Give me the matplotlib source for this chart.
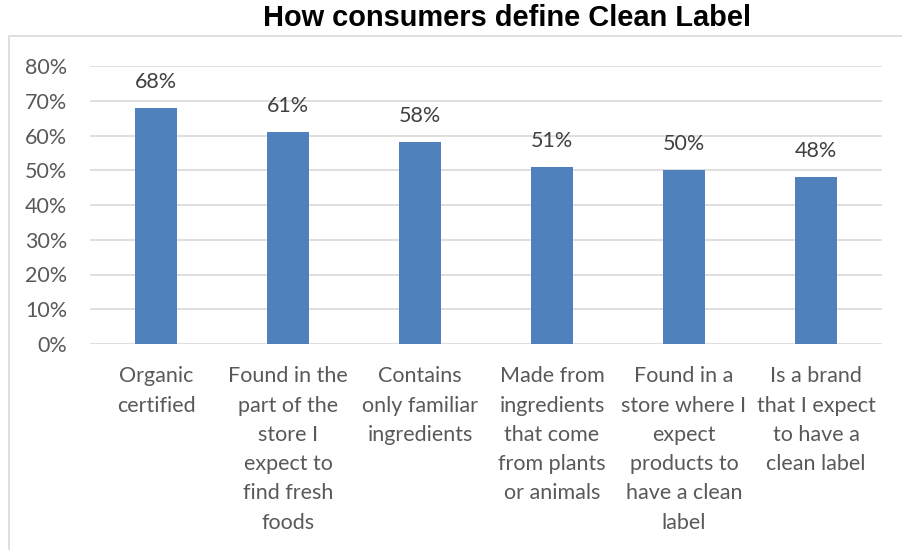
import matplotlib
matplotlib.use("Agg")
import matplotlib.pyplot as plt
from matplotlib.patches import Rectangle
from matplotlib.ticker import FuncFormatter

categories = [
    "Organic\ncertified",
    "Found in the\npart of the\nstore I\nexpect to\nfind fresh\nfoods",
    "Contains\nonly familiar\ningredients",
    "Made from\ningredients\nthat come\nfrom plants\nor animals",
    "Found in a\nstore where I\nexpect\nproducts to\nhave a clean\nlabel",
    "Is a brand\nthat I expect\nto have a\nclean label",
]
values = [0.68, 0.61, 0.58, 0.51, 0.50, 0.48]
title = "How consumers define Clean Label"

W, H = 902, 550
fig = plt.figure(figsize=(W / 100, H / 100), dpi=100)
fig.patch.set_facecolor("white")

# outer chart frame (cropped at right and bottom)
fig.add_artist(Rectangle((9 / W, -0.05), 1.1, 1 - 36 / H + 0.05,
                         transform=fig.transFigure, fill=False,
                         edgecolor="#D9D9D9", linewidth=1.2))

ax = fig.add_axes([90 / W, 1 - 344 / H, (882 - 90) / W, (344 - 66) / H])
x = list(range(len(categories)))
ax.bar(x, values, width=0.318, color="#4F81BD", zorder=3)
ax.set_xlim(-0.5, len(categories) - 0.5)
ax.set_ylim(0, 0.8)
ax.set_yticks([i / 10 for i in range(9)])
ax.yaxis.set_major_formatter(FuncFormatter(lambda v, p: f"{round(v * 100)}%"))
ax.grid(axis="y", color="#D9D9D9", linewidth=1.2, zorder=0)
for s in ax.spines.values():
    s.set_visible(False)
ax.tick_params(axis="both", length=0)
ax.tick_params(axis="y", pad=16.5, labelsize=15.5, labelcolor="#595959")
ax.set_xticks(x)
ax.set_xticklabels(categories, fontsize=15.5, color="#595959", linespacing=1.58)
ax.tick_params(axis="x", pad=16)
for lab in ax.get_xticklabels() + ax.get_yticklabels():
    lab.set_fontfamily("Lato")

for xi, v in zip(x, values):
    ax.annotate(f"{round(v * 100)}%", (xi, v), xytext=(0, 16), textcoords="offset pixels",
                ha="center", va="bottom", fontsize=15.5, color="#404040", family="Lato")

fig.text(507 / W, 1 - 18 / H, title, ha="center", va="center",
         fontsize=20.9, fontweight="bold", family="Liberation Sans", color="black")

fig.savefig("out.png", dpi=100)
